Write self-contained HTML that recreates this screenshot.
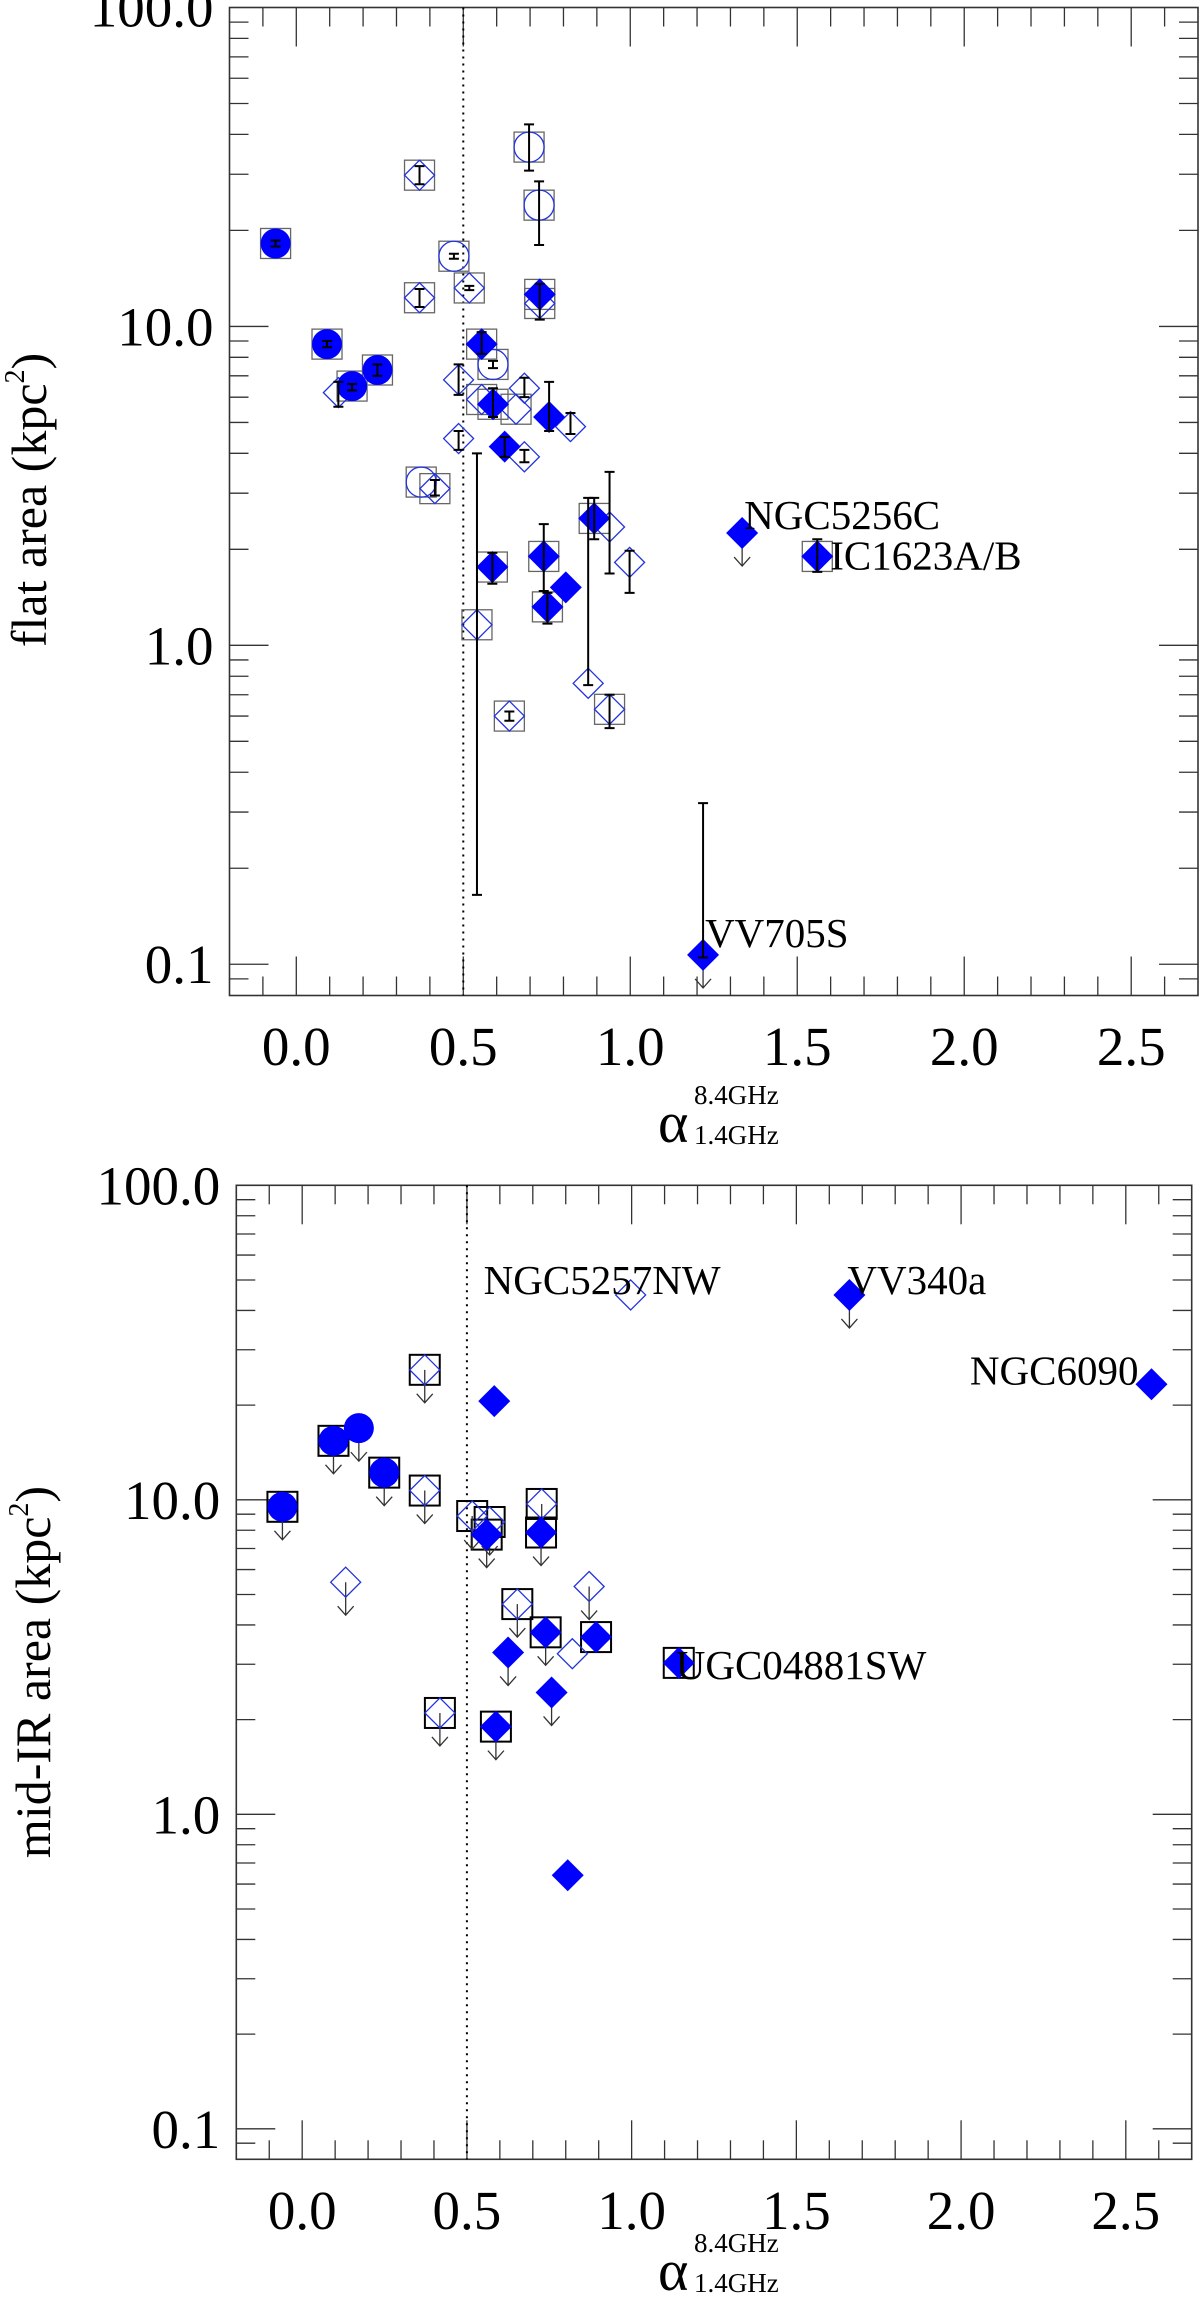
<!DOCTYPE html>
<html><head><meta charset="utf-8"><style>
html,body{margin:0;padding:0;background:#fff;}
svg{display:block;font-family:"Liberation Serif",serif;}
</style></head><body>
<svg id="fig" width="1200" height="2299" viewBox="0 0 1200 2299" xmlns="http://www.w3.org/2000/svg"></svg>
<script>
// ---------- TOP PANEL DATA (flat area) ----------
const topX = [-0.062,0.092,0.167,0.243,0.555,0.729,0.589,0.741,0.587,0.752,0.892,0.624,0.757,0.807,1.335,1.560,1.218,0.697,0.727,0.472,0.589,0.374,0.369,0.369,0.729,0.555,0.658,0.415,0.541,0.638,0.938,0.518,0.126,0.486,0.486,0.683,0.683,0.821,0.938,0.998,0.874];
const topY = [18.2,8.8,6.5,7.3,8.8,12.6,5.7,1.9,1.76,1.32,2.5,4.2,5.2,1.52,2.25,1.9,0.107,36.5,24,16.6,7.6,3.25,29.8,12.3,11.8,5.9,5.5,3.1,1.16,0.6,0.63,13.2,6.2,6.8,4.45,6.4,3.9,4.85,2.35,1.82,0.76];
const topMarker = ['fc','fc','fc','fc','fd','fd','fd','fd','fd','fd','fd','fd','fd','fd','fd','fd','fd','oc','oc','oc','oc','oc','od','od','od','od','od','od','od','od','od','od','od','od','od','od','od','od','od','od','od'];
const topBox = [1,1,1,1,1,1,1,1,1,1,1,0,0,0,0,1,0,1,1,1,1,1,1,1,1,1,1,1,1,1,1,1,0,0,0,0,0,0,0,0,0];
const topUL = [0,0,0,0,0,0,0,0,0,0,0,0,0,0,1,0,1,0,0,0,0,0,0,0,0,0,0,0,0,0,0,0,0,0,0,0,0,0,0,0,0];
const topErrHi = [18.6,9.0,6.6,7.6,9.6,13.6,6.4,2.4,1.95,1.46,2.9,4.5,6.7,null,null,2.15,0.32,43,28.5,16.9,7.8,null,31.8,13.1,null,null,null,3.3,4.0,0.62,0.7,13.4,6.7,7.6,4.7,6.9,4.1,5.35,3.5,1.98,2.9];
const topErrLo = [17.8,8.6,6.3,7.0,8.2,10.5,5.2,1.48,1.56,1.17,2.15,3.9,4.7,null,null,1.7,0.105,30.8,18,16.3,7.4,null,27.9,11.5,null,null,null,2.95,0.165,0.58,0.55,13.0,5.6,6.1,4.1,6.0,3.75,4.6,1.68,1.46,0.75];
const topLabels = ['NGC5256C','IC1623A/B','VV705S'];
const topLabelIdx = [14,15,16];

// ---------- BOTTOM PANEL DATA (mid-IR area) ----------
const botX = [-0.060,0.095,0.172,0.249,0.583,0.560,0.725,0.739,0.892,0.625,0.757,0.588,0.806,1.143,1.661,2.578,0.372,0.372,0.516,0.569,0.727,0.653,0.418,0.132,0.871,0.820,0.997];
const botY = [9.5,15.4,16.9,12.2,20.6,7.75,7.87,3.79,3.66,3.27,2.44,1.90,0.64,3.03,44.8,23.3,25.9,10.7,8.88,8.5,9.7,4.66,2.10,5.47,5.30,3.24,44.8];
const botMarker = ['fc','fc','fc','fc','fd','fd','fd','fd','fd','fd','fd','fd','fd','fd','fd','fd','od','od','od','od','od','od','od','od','od','od','od'];
const botBox = [1,1,0,1,0,1,1,1,1,0,0,1,0,1,0,0,1,1,1,1,1,1,1,0,0,0,0];
const botUL = [1,1,1,1,0,1,1,1,0,1,1,1,0,0,1,0,1,1,1,1,1,1,1,1,1,0,0];
const botLabels = ['NGC5257NW','VV340a','NGC6090','UGC04881SW'];
const botLabelIdx = [26,14,15,13];

// ---------- axis ticks ----------
const xTickVals = [0.0,0.5,1.0,1.5,2.0,2.5];
const xTickText = ['0.0','0.5','1.0','1.5','2.0','2.5'];
const yTickVals = [0.1,1,10,100];
const yTickText = ['0.1','1.0','10.0','100.0'];

const NS='http://www.w3.org/2000/svg';
const svg=document.getElementById('fig');
function mk(tag,attrs,parent){const e=document.createElementNS(NS,tag);for(const k in attrs)e.setAttribute(k,attrs[k]);(parent||svg).appendChild(e);return e;}

function panel(cfg){
  const g=mk('g',{});
  
  
  const L=cfg.left,R=cfg.right,T=cfg.top,B=cfg.bottom;
  const xmin=-0.2,xmax=2.7,lmin=cfg.lmin,lmax=2;
  const sx=v=>L+(v-xmin)/(xmax-xmin)*(R-L);
  const sy=v=>T+(lmax-Math.log10(v))/(lmax-lmin)*(B-T);
  // frame
  const fr=mk('rect',{x:L,y:T,width:R-L,height:B-T,fill:'none',stroke:'#333','stroke-width':1.6},g);
  
  
  // x ticks
  for(let i=-2;i<=27;i++){
    const v=i/10, px=sx(v); if(px<L+1||px>R-1) continue;
    const major=(i%5===0); const len=major?39:19;
    mk('line',{x1:px,y1:B,x2:px,y2:B-len,stroke:'#333','stroke-width':1.3},g);
    mk('line',{x1:px,y1:T,x2:px,y2:T+len,stroke:'#333','stroke-width':1.3},g);
  }
  xTickVals.forEach((v,i)=>{
    const t=mk('text',{x:sx(v),y:cfg.xLabY,'text-anchor':'middle','font-size':55,fill:'#000'},g);
    t.textContent=xTickText[i];
    
    
  });
  // y ticks
  for(let d=-2;d<=2;d++){
    for(let m=1;m<=9;m++){
      const v=m*Math.pow(10,d), py=sy(v); if(py<T+0.5||py>B-0.5) continue;
      const len=(m===1)?39:19;
      mk('line',{x1:L,y1:py,x2:L+len,y2:py,stroke:'#333','stroke-width':1.3},g);
      mk('line',{x1:R,y1:py,x2:R-len,y2:py,stroke:'#333','stroke-width':1.3},g);
    }
  }
  yTickVals.forEach((v,i)=>{
    const t=mk('text',{x:L-16,y:sy(v)+19,'text-anchor':'end','font-size':55,fill:'#000'},g);
    t.textContent=yTickText[i];
    
    
  });
  // dotted line at 0.5
  const dl=mk('line',{x1:sx(0.5),y1:T,x2:sx(0.5),y2:B,stroke:'#000','stroke-width':2,'stroke-dasharray':'2,5'},g);
  
  
  // y title
  const yt=mk('text',{x:0,y:0,'text-anchor':'middle','font-size':50,fill:'#000',transform:`translate(${cfg.yTitleX},${cfg.yTitleY}) rotate(-90)`},g);
  yt.innerHTML=cfg.yTitle+'<tspan font-size="28" dy="-22">2</tspan><tspan dy="22">)</tspan>';
  
  
  // x title
  const xt=mk('g',{},g);
  
  
  const a=mk('text',{x:cfg.xTitleX,y:cfg.xTitleY,'font-size':58,fill:'#000'},xt); a.textContent='α';
  const sp=mk('text',{x:cfg.xTitleX+36,y:cfg.xTitleY-38,'font-size':27,fill:'#000'},xt); sp.textContent='8.4GHz';
  const sb=mk('text',{x:cfg.xTitleX+36,y:cfg.xTitleY+2,'font-size':27,fill:'#000'},xt); sb.textContent='1.4GHz';

  const X=cfg.X,Y=cfg.Y,M=cfg.M,BX=cfg.BX,UL=cfg.UL;
  // boxes
  X.forEach((v,i)=>{ if(!BX[i]) return;
    const r=mk('rect',{x:sx(v)-15,y:sy(Y[i])-15,width:30,height:30,fill:'none',stroke:cfg.boxColor,'stroke-width':cfg.boxW},g);
    
    
  });
  // upper-limit arrows
  X.forEach((v,i)=>{ if(!UL[i]) return;
    const px=sx(v),py=sy(Y[i]);
    const p=mk('path',{d:`M${px},${py} L${px},${py+33} M${px-8},${py+24} L${px},${py+33} L${px+8},${py+24}`,fill:'none',stroke:'#333','stroke-width':1.3},g);
    
    
  });
  // markers
  const order=['oc','od','fc','fd'];
  order.forEach(kind=>{
    X.forEach((v,i)=>{ if(M[i]!==kind) return;
      const px=sx(v),py=sy(Y[i]); let e;
      if(kind==='fc') e=mk('circle',{cx:px,cy:py,r:15,fill:'#0000ff'},g);
      else if(kind==='oc') e=mk('circle',{cx:px,cy:py,r:15,fill:'none',stroke:'#2233dd','stroke-width':1.3},g);
      else if(kind==='fd') e=mk('path',{d:`M${px},${py-16} L${px+16},${py} L${px},${py+16} L${px-16},${py} Z`,fill:'#0000ff'},g);
      else e=mk('path',{d:`M${px},${py-15} L${px+15},${py} L${px},${py+15} L${px-15},${py} Z`,fill:'none',stroke:'#2233dd','stroke-width':1.3},g);
      
      
    });
  });
  // error bars
  if(cfg.EH){
    X.forEach((v,i)=>{ const hi=cfg.EH[i],lo=cfg.EL[i]; if(hi==null) return;
      const px=sx(v),y1=sy(hi),y2=sy(lo);
      const p=mk('path',{d:`M${px},${y1} L${px},${y2} M${px-5},${y1} L${px+5},${y1} M${px-5},${y2} L${px+5},${y2}`,fill:'none',stroke:'#000','stroke-width':2},g);
      
      
    });
  }
  // labels
  cfg.labels.forEach((s,k)=>{
    const i=cfg.labelIdx[k]; const o=cfg.labelOff[k];
    const t=mk('text',{x:sx(X[i])+o[0],y:sy(Y[i])+o[1],'font-size':41,fill:'#000','text-anchor':o[2]||'start'},g);
    t.textContent=s;
    
    
  });
}

panel({name:'flat-area-panel',left:229.5,right:1198,top:7.5,bottom:995.5,lmin:-1.098,
  xLabY:1065,yTitle:'flat area (kpc',yTitleX:46,yTitleY:500,xTitleX:658,xTitleY:1142,
  X:topX,Y:topY,M:topMarker,BX:topBox,UL:topUL,EH:topErrHi,EL:topErrLo,boxColor:'#666',boxW:1.3,
  labels:topLabels,labelIdx:topLabelIdx,labelOff:[[2,-4],[13,13],[2,-8]]});

panel({name:'mid-ir-area-panel',left:236.3,right:1191.7,top:1185.3,bottom:2159.3,lmin:-1.097,
  xLabY:2229,yTitle:'mid-IR area (kpc',yTitleX:50,yTitleY:1672,xTitleX:658,xTitleY:2290,
  X:botX,Y:botY,M:botMarker,BX:botBox,UL:botUL,EH:null,EL:null,boxColor:'#000',boxW:2,
  labels:botLabels,labelIdx:botLabelIdx,labelOff:[[-147,-1],[-2,-1],[-13,0,'end'],[-3,16]]});
</script>
</body></html>
